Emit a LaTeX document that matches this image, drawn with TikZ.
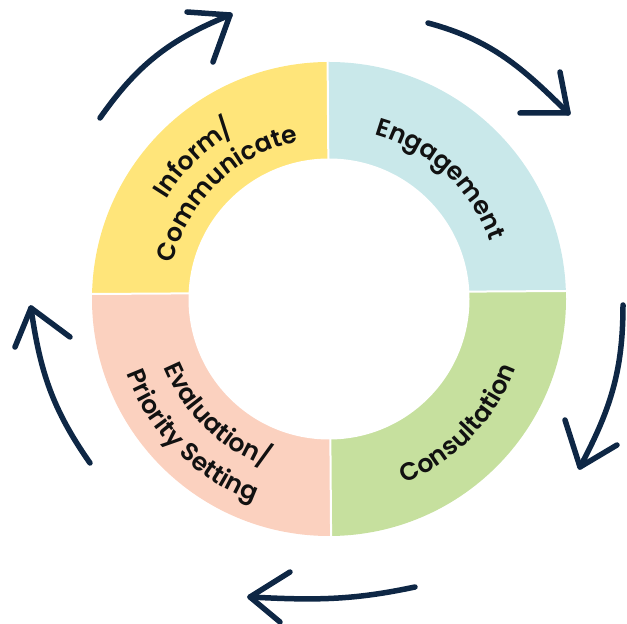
\documentclass[tikz,border=0pt]{standalone}
\usepackage{fontspec}
\setmainfont{Poppins}[UprightFont={* SemiBold}, BoldFont={* SemiBold}]
\usetikzlibrary{decorations.text,calc}
\definecolor{cyel}{HTML}{FFE57A}
\definecolor{cblu}{HTML}{C9E8EA}
\definecolor{cgrn}{HTML}{C6E09E}
\definecolor{cpch}{HTML}{FBD1BF}
\definecolor{navy}{HTML}{0E2745}
\definecolor{txtc}{HTML}{111111}
\newcommand{\lbl}{\fontsize{25}{30}\selectfont}
\begin{document}
\begin{tikzpicture}[x=1pt,y=1pt,
  arrowline/.style={draw=navy, line width=5.5pt, line cap=round, line join=round},
  divider/.style={draw=white, line width=2pt},
  curvetext/.style={decorate, decoration={text along path, text align=center, text color=txtc, text={#1}}}]
\useasboundingbox (0,0) rectangle (627,624);
\coordinate (C) at (329,325);
\coordinate (D) at (329.2,331.5);
\coordinate (T) at (327.1,631.5);
\coordinate (B) at (331.5,31.5);
\coordinate (L) at (29.3,329.6);
\coordinate (R) at (629.3,333.4);
% ring
\begin{scope}
\clip (C) circle[radius=237];
\fill[cyel] (D) -- (T) -- (29.3,631.5) -- (L) -- cycle;
\fill[cblu] (D) -- (T) -- (629.3,631.5) -- (R) -- cycle;
\fill[cgrn] (D) -- (R) -- (629.3,31.5) -- (B) -- cycle;
\fill[cpch] (D) -- (B) -- (29.3,31.5) -- (L) -- cycle;
\draw[divider] (L) -- (R);
\draw[divider] (T) -- (B);
\end{scope}
\fill[white] (C) circle[radius=140.5];
% labels
\path[curvetext={|\lbl|Engagement}] ($(C)+(117:171)$) arc[start angle=117, end angle=-23, radius=171];
\path[curvetext={|\lbl|Inform/}] ($(C)+(204:191)$) arc[start angle=204, end angle=64, radius=191];
\path[curvetext={|\lbl|Communicate}] ($(C)+(204:160)$) arc[start angle=204, end angle=64, radius=160];
\path[curvetext={|\lbl|Consultation}] ($(C)+(-114:199)$) arc[start angle=-114, end angle=26, radius=199];
\path[curvetext={|\lbl|Evaluation/}] ($(C)+(156:179)$) arc[start angle=156, end angle=296, radius=179];
\path[curvetext={|\lbl|Priority Setting}] ($(C)+(155:216)$) arc[start angle=155, end angle=295, radius=216];
% arrows
\coordinate (a1s) at (100,506); \coordinate (a1t) at (230,609);
\coordinate (a1b) at (187,612); \coordinate (a1c) at (213,562);
\coordinate (a2s) at (428,601); \coordinate (a2t) at (568,511);
\coordinate (a2b) at (520,511); \coordinate (a2c) at (560,552);
\coordinate (a3s) at (623,319); \coordinate (a3t) at (580,157);
\coordinate (a3b) at (565,204); \coordinate (a3c) at (617,179);
\coordinate (a4s) at (415,37); \coordinate (a4t) at (250,27);
\coordinate (a4b) at (290,52); \coordinate (a4c) at (280,2);
\coordinate (a5s) at (90,161); \coordinate (a5t) at (31,316);
\coordinate (a5b) at (15,277); \coordinate (a5c) at (70,287);
\draw[arrowline] (a1s) to[out=55,in=202] (a1t);
\draw[arrowline] (a1b) -- (a1t) -- (a1c);
\draw[arrowline] (a2s) to[out=-15,in=135] (a2t);
\draw[arrowline] (a2b) -- (a2t) -- (a2c);
\draw[arrowline] (a3s) to[out=-90,in=62] (a3t);
\draw[arrowline] (a3b) -- (a3t) -- (a3c);
\draw[arrowline] (a4s) to[out=192,in=-3] (a4t);
\draw[arrowline] (a4b) -- (a4t) -- (a4c);
\draw[arrowline] (a5s) to[out=125,in=-82] (a5t);
\draw[arrowline] (a5b) -- (a5t) -- (a5c);
\end{tikzpicture}
\end{document}
